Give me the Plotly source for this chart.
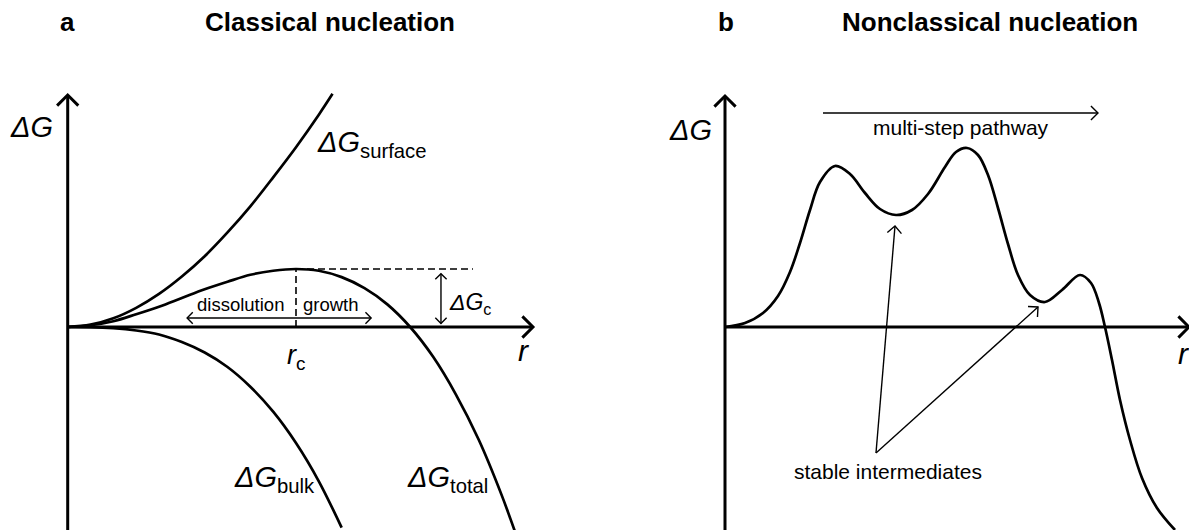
import math
import plotly.graph_objects as go

# ---------------- data ----------------
# Panel a: classical nucleation (r in units of r_c, dG in units of dG_c)
A_R_SURFACE = [0, 0.1, 0.2, 0.3, 0.4, 0.5, 0.6, 0.7, 0.8, 0.9, 1.0, 1.1, 1.16]
A_G_SURFACE = [0, 0.04, 0.15, 0.33, 0.57, 0.87, 1.22, 1.63, 2.08, 2.58, 3.10, 3.66, 4.02]

A_R_BULK = [0, 0.1, 0.2, 0.3, 0.4, 0.5, 0.6, 0.7, 0.8, 0.9, 1.0, 1.1, 1.2]
A_G_BULK = [0, -0.002, -0.02, -0.06, -0.13, -0.26, -0.44, -0.69, -1.03, -1.46, -2.0, -2.66, -3.46]

A_R_TOTAL = [0, 0.1, 0.2, 0.3, 0.4, 0.5, 0.6, 0.7, 0.8, 0.9, 1.0, 1.1, 1.2, 1.3, 1.4,
             1.5, 1.6, 1.7, 1.8, 1.9, 1.97]
A_G_TOTAL = [0, 0.03, 0.10, 0.22, 0.35, 0.50, 0.65, 0.78, 0.90, 0.97, 1.0, 0.97, 0.86, 0.67, 0.39,
             0.0, -0.51, -1.16, -1.94, -2.89, -3.65]

A_R_CRIT = 1.0      # r_c
A_G_CRIT = 1.0      # dG_c

# Panel b: nonclassical nucleation (arbitrary units)
B_R_PATH = [0, 0.20, 0.38, 0.53, 0.65, 0.75, 0.85, 0.95, 1.10, 1.25, 1.40, 1.55, 1.71, 1.87,
            2.03, 2.20, 2.31, 2.42, 2.53, 2.63, 2.73, 2.83, 2.93, 3.05, 3.20, 3.37, 3.55,
            3.66, 3.74, 3.80, 3.87, 3.95, 4.05, 4.17, 4.32, 4.50]
B_G_PATH = [0, 0.04, 0.14, 0.31, 0.55, 0.84, 1.17, 1.45, 1.61, 1.53, 1.34, 1.18, 1.12, 1.17,
            1.33, 1.60, 1.75, 1.79, 1.72, 1.52, 1.19, 0.83, 0.52, 0.32, 0.25, 0.37, 0.52,
            0.44, 0.24, 0.00, -0.33, -0.73, -1.13, -1.51, -1.81, -2.03]

# stable intermediates (local minima the annotation arrows point at)
B_R_MINIMA = [1.70, 3.13]
B_G_MINIMA = [1.01, 0.20]

# ---------------- layout helpers ----------------
W, H = 1189, 530
FONT = "Liberation Sans, Arial, sans-serif"
BLACK = "#000000"

# pixels per data unit in each panel
A_SX, A_SY = 228.3, 58.0
B_SX, B_SY = 100.0, 100.0

fig = go.Figure()


def add_line(x, y, ax, width=2.7, shape="linear", dash=None):
    fig.add_trace(go.Scatter(
        x=x, y=y, mode="lines",
        line=dict(color=BLACK, width=width, shape=shape, dash=dash, smoothing=1.0),
        xaxis="x" if ax == "a" else "x2", yaxis="y" if ax == "a" else "y2",
        hoverinfo="skip", showlegend=False))


def add_chevron(tx, ty, angle_deg, arm, ax, width):
    sx, sy = (A_SX, A_SY) if ax == "a" else (B_SX, B_SY)
    a = math.radians(angle_deg)
    pts = []
    for s in (1, -1):
        b = a + math.pi + s * math.radians(45)
        pts.append((tx + arm * math.cos(b) / sx, ty + arm * math.sin(b) / sy))
    add_line([pts[0][0], tx, pts[1][0]], [pts[0][1], ty, pts[1][1]], ax, width=width)


def add_arrow(x0, y0, x1, y1, ax, width, arm, both=False):
    sx, sy = (A_SX, A_SY) if ax == "a" else (B_SX, B_SY)
    add_line([x0, x1], [y0, y1], ax, width=width)
    ang = math.degrees(math.atan2((y1 - y0) * sy, (x1 - x0) * sx))
    add_chevron(x1, y1, ang, arm, ax, width)
    if both:
        add_chevron(x0, y0, ang + 180, arm, ax, width)


def label(text, x, y, ax, size, xanchor="center", yanchor="middle"):
    fig.add_annotation(
        text=text, x=x, y=y, xref="x" if ax == "a" else "x2", yref="y" if ax == "a" else "y2",
        xanchor=xanchor, yanchor=yanchor, showarrow=False,
        font=dict(family=FONT, size=size, color=BLACK))


# ---------------- panel a ----------------
A_Y_TOP, A_Y_BOT = 4.0, -3.5
A_X_END = 2.038
add_line([0, 0], [A_Y_BOT, A_Y_TOP], "a", width=3)
add_chevron(0, A_Y_TOP, 90, 15, "a", 3)
add_line([0, A_X_END], [0, 0], "a", width=3)
add_chevron(A_X_END, 0, 0, 15, "a", 3)

add_line(A_R_SURFACE, A_G_SURFACE, "a", shape="spline")
add_line(A_R_BULK, A_G_BULK, "a", shape="spline")
add_line(A_R_TOTAL, A_G_TOTAL, "a", shape="spline")

# critical nucleus guides
add_line([A_R_CRIT, A_R_CRIT], [0, A_G_CRIT], "a", width=1.6, dash="7px,4px")
add_line([A_R_CRIT, 1.775], [A_G_CRIT, A_G_CRIT], "a", width=1.6, dash="7px,4px")
add_arrow(1.635, 0.06, 1.635, 0.92, "a", 1.4, 8, both=True)
add_arrow(A_R_CRIT, 0.155, 1.329, 0.155, "a", 1.4, 8)
add_arrow(A_R_CRIT, 0.155, 0.523, 0.155, "a", 1.4, 8)

label("<i>ΔG</i>", -0.159, 3.45, "a", 29)
label("<i>ΔG</i><sub>surface</sub>", 1.083, 3.16, "a", 29, xanchor="left")
label("<i>ΔG</i><sub>bulk</sub>", 0.720, -2.62, "a", 29, xanchor="left")
label("<i>ΔG</i><sub>total</sub>", 1.477, -2.62, "a", 29, xanchor="left")
label("<i>ΔG</i><sub>c</sub>", 1.662, 0.40, "a", 23, xanchor="left")
label("<i>r</i><sub>c</sub>", A_R_CRIT, -0.52, "a", 27)
label("<i>r</i>", 1.995, -0.40, "a", 30)
label("dissolution", 0.755, 0.38, "a", 18.5)
label("growth", 1.153, 0.38, "a", 18.5)

# ---------------- panel b ----------------
B_Y_TOP, B_Y_BOT = 2.31, -2.03
B_X_END = 4.64
add_line([0, 0], [B_Y_BOT, B_Y_TOP], "b", width=3)
add_chevron(0, B_Y_TOP, 90, 15, "b", 3)
add_line([0, B_X_END], [0, 0], "b", width=3)
add_chevron(B_X_END, 0, 0, 15, "b", 3)

add_line(B_R_PATH, B_G_PATH, "b", shape="spline")

add_arrow(0.98, 2.14, 3.73, 2.14, "b", 1.4, 10)
for rx, gy in zip(B_R_MINIMA, B_G_MINIMA):
    add_arrow(1.51, -1.26, rx, gy, "b", 1.4, 10)

label("<i>ΔG</i>", -0.35, 1.97, "b", 29)
label("<i>r</i>", 4.58, -0.26, "b", 30)
label("multi-step pathway", 2.36, 2.0, "b", 21)
label("stable intermediates", 1.63, -1.44, "b", 21)

# panel headings
for txt, px in (("a", 67), ("Classical nucleation", 330), ("b", 726), ("Nonclassical nucleation", 990)):
    fig.add_annotation(text="<b>%s</b>" % txt, x=px / W, y=1 - 22 / H, xref="paper", yref="paper",
                       xanchor="center", yanchor="middle", showarrow=False,
                       font=dict(family=FONT, size=26, color=BLACK))

hidden = dict(visible=False, fixedrange=True)
fig.update_layout(
    width=W, height=H, margin=dict(l=0, r=0, t=0, b=0),
    paper_bgcolor="white", plot_bgcolor="white", showlegend=False,
    xaxis=dict(domain=[0, 0.5], range=[-67.7 / A_SX, (594.5 - 67.7) / A_SX], **hidden),
    yaxis=dict(domain=[0, 1], range=[-(H - 327) / A_SY, 327 / A_SY], **hidden),
    xaxis2=dict(domain=[0.5, 1], range=[-130.5 / B_SX, 464 / B_SX], **hidden),
    yaxis2=dict(domain=[0, 1], range=[-(H - 327) / B_SY, 327 / B_SY], anchor="x2", **hidden),
)

fig.write_html("out.html")
